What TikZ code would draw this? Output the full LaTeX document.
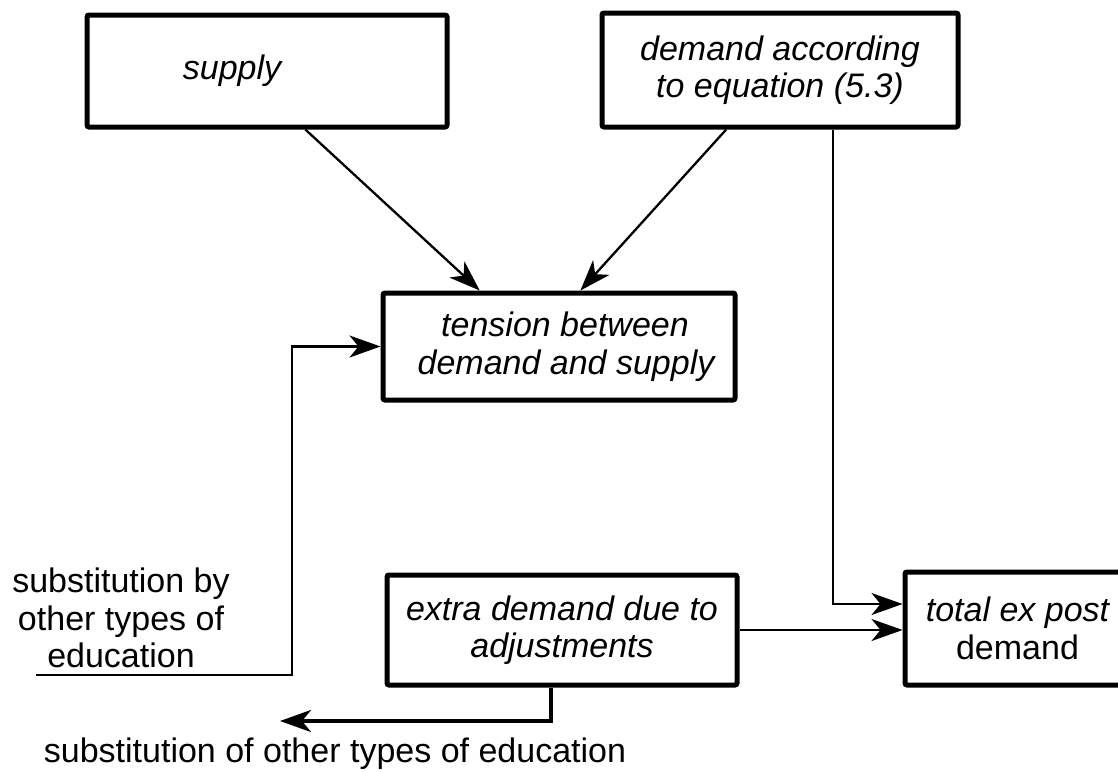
\documentclass[tikz,border=0pt]{standalone}
\usepackage{fontspec}
\setmainfont{Liberation Sans}
\usetikzlibrary{arrows.meta,calc}
\begin{document}
\begin{tikzpicture}[x=1pt,y=-1pt,
  txt/.style={font=\fontsize{34pt}{37.5pt}\selectfont, inner sep=0pt, align=center},
  box/.style={txt, draw, line width=5pt, rounded corners=2pt, font=\fontsize{34pt}{37.5pt}\selectfont\itshape},
  conn/.style={line width=2.3pt},
  thickconn/.style={line width=3.8pt},
  tip/.style={-{Stealth[length=31pt,width=22pt,inset=9pt]}}
]
\useasboundingbox (0,0) rectangle (1118,771);
\node[box, minimum width=360pt, minimum height=112pt] (supply) at (267,71) {supply\hspace*{70pt}};
\node[box, minimum width=356pt, minimum height=114pt] (demand) at (780,70) {demand according\\to equation (5.3)};
\node[box, minimum width=352pt, minimum height=107pt] (tension) at (559,346.5) {\hspace*{12pt}tension between\\\hspace*{14pt}demand and supply};
\node[box, minimum width=350pt, minimum height=110pt] (extra) at (562,630) {extra demand due to\\adjustments};
\node[box, minimum width=225pt, minimum height=113pt] (total) at (1017.5,628.5) {total ex post\\\upshape demand};
\node[txt] (sub1) at (121,618) {substitution by\\other types of\\education};
\node[txt, anchor=base] (sub2) at (335,762) {substitution of other types of education};
\coordinate (u0) at (36,675);
\coordinate (b0) at (280,721);
\draw[conn, tip] ($(supply.south west)!0.605!(supply.south east)$) -- ($(tension.north west)!0.278!(tension.north east)$);
\draw[conn, tip] ($(demand.south west)!0.351!(demand.south east)$) -- ($(tension.north west)!0.56!(tension.north east)$);
\draw[conn, tip] ($(demand.south west)!0.646!(demand.south east)$) |- ($(total.west)+(0,-24.5)$);
\draw[conn, tip] (extra.east) -- (extra.east -| total.west);
\draw[conn, tip] (u0) -- ++(256,0) |- (tension.west);
\draw[thickconn, tip] ($(extra.south west)!0.469!(extra.south east)$) |- (b0);
\end{tikzpicture}
\end{document}
